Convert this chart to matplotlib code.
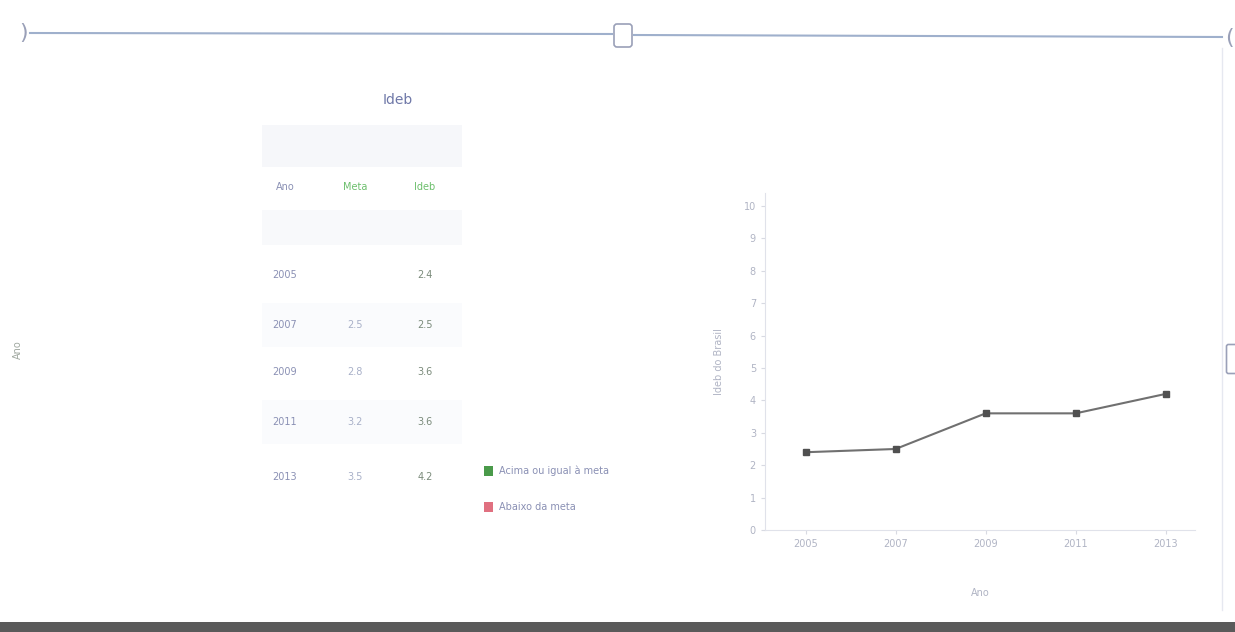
import matplotlib
matplotlib.use("Agg")
import matplotlib.pyplot as plt
from matplotlib.patches import Rectangle, FancyBboxPatch

# ---- data ----
anos = [2005, 2007, 2009, 2011, 2013]
ideb = [2.4, 2.5, 3.6, 3.6, 4.2]
meta_txt = ["", "2.5", "2.8", "3.2", "3.5"]
ideb_txt = ["2.4", "2.5", "3.6", "3.6", "4.2"]
table_header = ["Ano", "Meta", "Ideb"]
legend_labels = ["Acima ou igual à meta", "Abaixo da meta"]
yticks = list(range(0, 11))

W, H = 1235, 632
fig = plt.figure(figsize=(W / 100, H / 100), dpi=100)
fig.patch.set_facecolor("white")

txt_col = "#8a90b4"
green = "#6cbf6c"
faint = "#c8cbd8"

def fx(x):
    return x / W

def fy(y):
    return 1 - y / H

# ---- top slider bar ----
bg = fig.add_axes([0, 0, 1, 1], zorder=-1)
bg.set_xlim(0, W)
bg.set_ylim(H, 0)
bg.axis("off")
bg.plot([30, 612], [33, 34], color="#9fb0cc", lw=1.5)
bg.plot([634, 1222], [35, 37], color="#9fb0cc", lw=1.5)
bg.text(24, 33, ")", fontsize=16, color="#9aa0b8", va="center", ha="center")
bg.text(1229, 38, "(", fontsize=16, color="#9aa0b8", va="center", ha="center")
bg.add_patch(FancyBboxPatch((615, 25), 16, 21, boxstyle="round,pad=1,rounding_size=3",
                            fc="white", ec="#9aa0b8", lw=1.2))
bg.plot([1222, 1222], [48, 610], color="#e6e8f0", lw=1)
bg.add_patch(FancyBboxPatch((1227, 345), 10, 28, boxstyle="round,pad=0.5,rounding_size=2",
                            fc="white", ec="#9aa0b8", lw=1.2))
# bottom dark band
bg.add_patch(Rectangle((0, 622), W, 10, fc="#5a5a5a", ec="none"))
# left rotated label
bg.text(18, 350, "Ano", fontsize=7, color="#a0a8a0", rotation=90, va="center", ha="center")

# ---- table ----
bg.text(398, 100, "Ideb", fontsize=10, color="#6f78a8", ha="center", va="center")
bg.add_patch(Rectangle((262, 125), 200, 42, fc="#f6f7fa", ec="none"))
bg.add_patch(Rectangle((262, 210), 200, 35, fc="#f8f9fb", ec="none"))
col_x = [285, 355, 425]
hdr_col = [txt_col, green, green]
for x, h, c in zip(col_x, table_header, hdr_col):
    bg.text(x, 187, h, fontsize=7, color=c, ha="center", va="center")
row_y = [275, 325, 372, 422, 477]
for i, (a, m, v) in enumerate(zip(anos, meta_txt, ideb_txt)):
    y = row_y[i]
    if i % 2 == 1:
        bg.add_patch(Rectangle((262, y - 22), 200, 44, fc="#fafbfd", ec="none"))
    bg.text(col_x[0], y, str(a), fontsize=7, color=txt_col, ha="center", va="center")
    bg.text(col_x[1], y, m, fontsize=7, color="#a8b0c8", ha="center", va="center")
    bg.text(col_x[2], y, v, fontsize=7, color="#7a8a7a", ha="center", va="center")

# legend
leg_y = [471, 507]
leg_c = ["#4a9a4a", "#e07080"]
for y, lab, c in zip(leg_y, legend_labels, leg_c):
    bg.add_patch(Rectangle((484, y - 5), 9, 10, fc=c, ec="none"))
    bg.text(499, y, lab, fontsize=7, color=txt_col, ha="left", va="center")

# ---- line chart ----
ax = fig.add_axes([fx(765), fy(530), fx(1195) - fx(765), fy(193) - fy(530)])
ax.plot(anos, ideb, color="#707070", lw=1.5, marker="s", markersize=4,
        markerfacecolor="#505050", markeredgecolor="#505050")
ax.set_xlim(2004.1, 2013.65)
ax.set_ylim(0, 10.4)
ax.set_xticks(anos)
ax.set_yticks(yticks)
ax.tick_params(axis="both", colors="#d8dae2", labelcolor="#b0b4c4", labelsize=7, length=3)
for s in ["top", "right"]:
    ax.spines[s].set_visible(False)
for s in ["left", "bottom"]:
    ax.spines[s].set_color("#e0e2ea")
ax.set_xlabel("Ano", fontsize=7, color="#b0b4c4", labelpad=28)
ax.set_ylabel("Ideb do Brasil", fontsize=7, color="#b0b4c4", labelpad=14)

fig.savefig("out.png", dpi=100)
